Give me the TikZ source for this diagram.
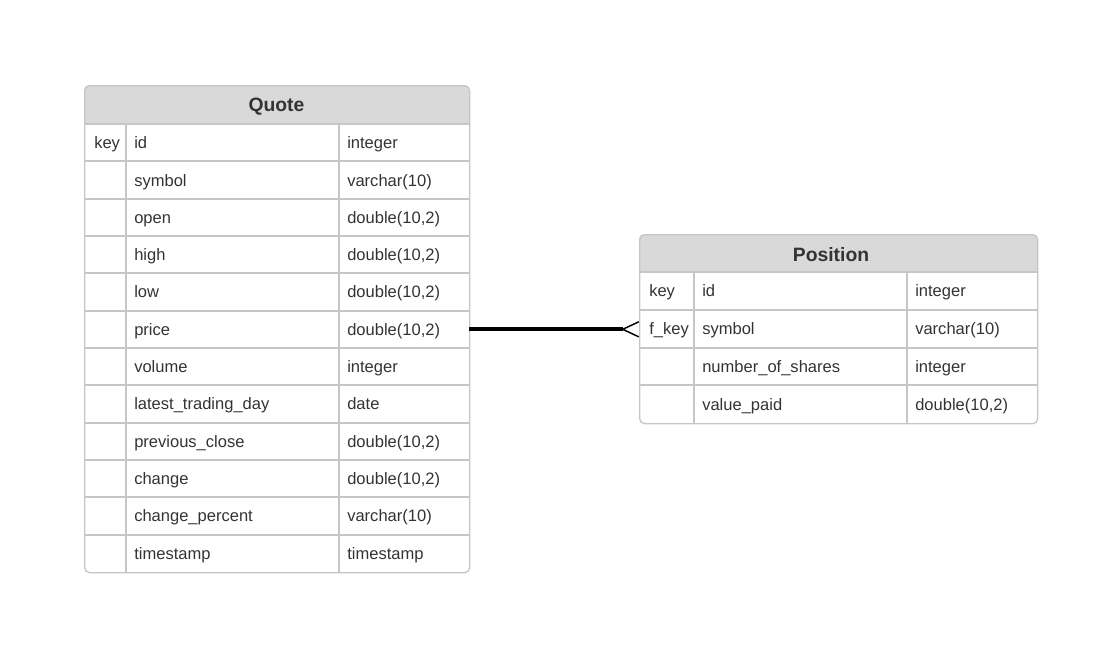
\documentclass[tikz,border=0pt]{standalone}
\usepackage{fontspec}
\setmainfont{Liberation Sans}
\definecolor{hdrfill}{HTML}{D9D9D9}
\definecolor{gridc}{HTML}{C6C6C6}
\definecolor{txt}{HTML}{333333}
\tikzset{
  tblbox/.style={draw=gridc, line width=1pt, rounded corners=3.75pt, inner sep=0pt, anchor=north west},
  gridline/.style={draw=gridc, line width=0.8pt},
  rowbox/.style={inner sep=0pt, minimum height=28pt},
  cell/.style={anchor=base west, inner sep=0pt, text=txt, font=\fontsize{12.4}{14}\selectfont},
  title/.style={anchor=base, inner sep=0pt, text=txt, font=\fontsize{14.5}{17}\selectfont\bfseries},
  rel/.style={line width=3pt, black},
  foot/.style={line width=1.1pt, black},
}
\begin{document}
\begin{tikzpicture}[x=0.75pt,y=-0.75pt]
\useasboundingbox (0,0) rectangle (1120,668);
% ---------- Quote table
\begin{scope}
\clip[rounded corners=3.75pt] (84,85) rectangle (469,572);
\fill[hdrfill] (84,85) rectangle (469,124);
\end{scope}
\node[tblbox, minimum width=288.75pt, minimum height=365.25pt] (quote) at (84,85) {};
\draw[gridline] (84,124) -- (469,124);
\node[title] (quote-title) at (276.5,111) {Quote};
\foreach \i/\k/\n/\t in {0/key/id/integer,1//symbol/varchar(10),2//open/double(10{,}2),3//high/double(10{,}2),4//low/double(10{,}2),5//price/double(10{,}2),6//volume/integer,7//latest\_trading\_day/date,8//previous\_close/double(10{,}2),9//change/double(10{,}2),10//change\_percent/varchar(10),11//timestamp/timestamp}{
  \pgfmathsetmacro{\yc}{124+37.33*(\i+0.5)}
  \pgfmathsetmacro{\ybl}{124+37.33*(\i+0.5)+6}
  \pgfmathsetmacro{\yb}{round(124+37.33*(\i+1))}
  \node[rowbox, minimum width=288.75pt] (qrow\i) at (276.5,\yc) {};
  \node[cell] (qk\i) at (94,\ybl) {\k};
  \node[cell] (qn\i) at (134,\ybl) {\n};
  \node[cell] (qt\i) at (347,\ybl) {\t};
  \ifnum\i<11 \draw[gridline] (84,\yb) -- (469,\yb); \fi
}
\draw[gridline] (126,124) -- (126,572);
\draw[gridline] (339,124) -- (339,572);
% ---------- Position table
\begin{scope}
\clip[rounded corners=3.75pt] (639,234) rectangle (1037,423);
\fill[hdrfill] (639,234) rectangle (1037,272);
\end{scope}
\node[tblbox, minimum width=298.5pt, minimum height=141.75pt] (position) at (639,234) {};
\draw[gridline] (639,272) -- (1037,272);
\node[title] (position-title) at (831,261) {Position};
\foreach \i/\k/\n/\t in {0/key/id/integer,1/f\_key/symbol/varchar(10),2//number\_of\_shares/integer,3//value\_paid/double(10{,}2)}{
  \pgfmathsetmacro{\yc}{272+37.75*(\i+0.5)}
  \pgfmathsetmacro{\ybl}{272+37.75*(\i+0.5)+6}
  \pgfmathsetmacro{\yb}{round(272+37.75*(\i+1))}
  \node[rowbox, minimum width=298.5pt] (prow\i) at (838,\yc) {};
  \node[cell] (pk\i) at (649,\ybl) {\k};
  \node[cell] (pn\i) at (702,\ybl) {\n};
  \node[cell] (pt\i) at (915,\ybl) {\t};
  \ifnum\i<3 \draw[gridline] (639,\yb) -- (1037,\yb); \fi
}
\draw[gridline] (694,272) -- (694,423);
\draw[gridline] (907,272) -- (907,423);
% ---------- relation
\draw[rel, shorten >=12pt] (qrow5.east) -- (qrow5.east -| prow1.west);
\draw[foot] (qrow5.east -| prow1.west) ++(0,-7.5) -- ++(-16,7.5) -- ++(16,7.5);
\end{tikzpicture}
\end{document}
